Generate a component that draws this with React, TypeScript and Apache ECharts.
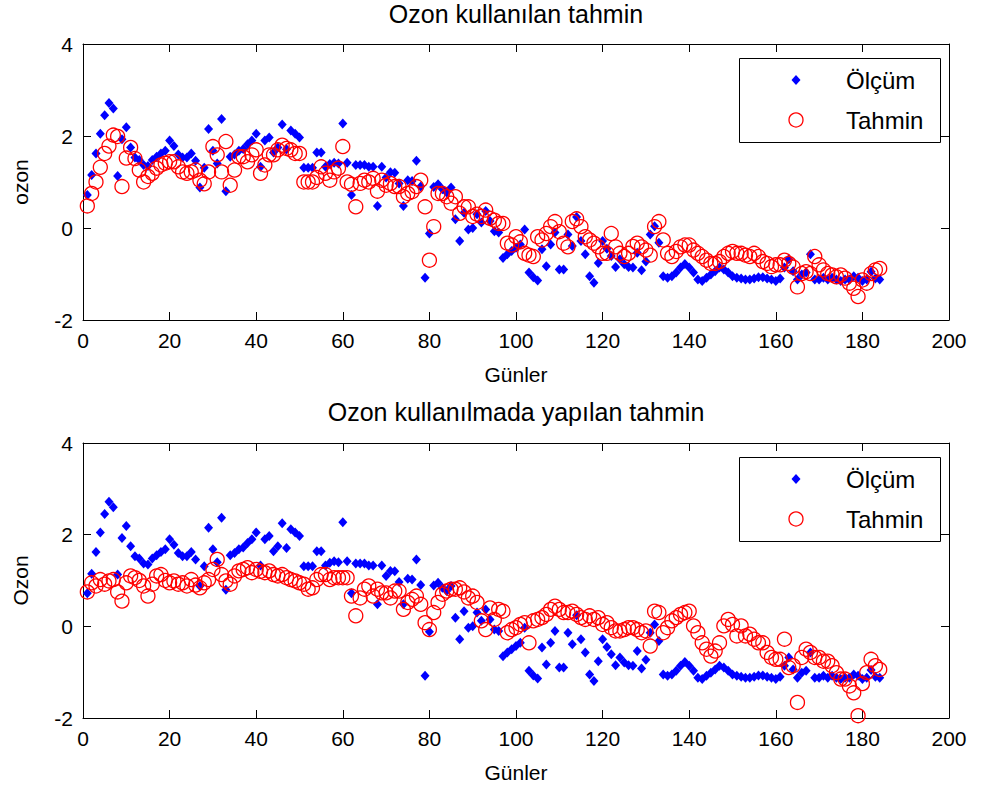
import React, { useEffect, useRef } from "react";
import * as echarts from "echarts";

// Ölçüm (measured), shared by both panels
const olcum = [
  0.72, 1.15, 1.62, 2.05, 2.45, 2.72, 2.6, 1.13, 1.93, 2.19,
  1.75, 1.53, 1.48, 1.37, 1.35, 1.48, 1.55, 1.62, 1.68, 1.9,
  1.78, 1.6, 1.53, 1.53, 1.62, 1.46, 0.88, 1.31, 2.15, 1.68,
  1.4, 2.37, 0.8, 1.55, 1.6, 1.68, 1.72, 1.82, 1.9, 2.05,
  1.33, 1.9, 1.97, 1.64, 1.75, 2.25, 1.71, 2.12, 2.05, 1.97,
  1.31, 1.31, 1.31, 1.64, 1.64, 1.33, 1.39, 1.42, 1.4, 2.27,
  1.42, 0.72, 1.37, 1.37, 1.37, 1.33, 1.33, 0.48, 1.33, 1.1,
  1.21, 1.2, 0.97, 0.48, 1.04, 1.02, 1.46, 0.9, -1.08, -0.12,
  0.89, 0.95, 0.84, 0.77, 0.88, 0.19, -0.28, 0.33, -0.03, 0.0,
  0.3, 0.12, 0.37, 0.15, -0.07, -0.1, -0.65, -0.57, -0.5, -0.43,
  -0.36, -0.03, -0.97, -1.07, -1.14, -0.46, -0.83, -0.36, -0.1, -0.9,
  -0.9, -0.14, -0.39, 0.24, -0.28, -0.57, -1.05, -1.19, -0.76, -0.28,
  -0.45, -0.61, -0.85, -0.68, -0.79, -0.85, -0.86, -0.54, -0.92, -0.73,
  -0.14, 0.04, -0.32, -1.05, -1.08, -1.05, -0.97, -0.86, -0.78, -0.86,
  -0.97, -1.12, -1.15, -1.08, -1.01, -0.94, -0.86, -0.9, -0.97, -1.05,
  -1.08, -1.1, -1.12, -1.12, -1.1, -1.07, -1.07, -1.1, -1.12, -1.15,
  -1.1, -0.86, -0.68, -0.94, -1.12, -1.01, -0.97, -0.57, -1.12, -1.12,
  -1.08, -1.12, -1.08, -1.12, -1.15, -1.12, -1.12, -1.05, -1.08, -1.15,
  -1.12, -0.95, -1.1, -1.12,
];

// Tahmin with ozone used (top panel)
const tahminOzonlu = [
  0.48, 0.75, 1.0, 1.32, 1.62, 1.78, 2.02, 1.99, 0.9, 1.52,
  1.75, 1.51, 1.26, 1.0, 1.12, 1.19, 1.3, 1.37, 1.41, 1.44,
  1.44, 1.33, 1.22, 1.19, 1.22, 1.26, 1.04, 0.96, 1.22, 1.77,
  1.59, 1.22, 1.88, 0.93, 1.26, 1.55, 1.55, 1.44, 1.59, 1.7,
  1.19, 1.37, 1.59, 1.59, 1.7, 1.8, 1.73, 1.7, 1.62, 1.62,
  1.0, 1.0, 1.0, 1.1, 1.33, 1.19, 1.04, 1.22, 1.3, 1.77,
  1.0, 0.95, 0.46, 0.97, 1.04, 1.0, 1.08, 0.8, 1.04, 0.93,
  0.97, 0.9, 0.9, 0.68, 0.75, 0.79, 0.9, 1.04, 0.46, -0.7,
  0.03, 0.75, 0.75, 0.68, 0.54, 0.68, 0.32, 0.46, 0.46, 0.25,
  0.3, 0.25, 0.39, 0.21, 0.17, 0.1, 0.1, -0.33, -0.37, -0.19,
  -0.3, -0.55, -0.59, -0.62, -0.19, -0.26, -0.12, 0.03, 0.14, -0.08,
  -0.33, -0.41, 0.14, 0.2, 0.03, -0.19, -0.26, -0.33, -0.41, -0.55,
  -0.55, -0.12, -0.41, -0.55, -0.62, -0.55, -0.4, -0.33, -0.41, -0.48,
  -0.59, 0.03, 0.14, -0.26, -0.55, -0.62, -0.51, -0.41, -0.37, -0.37,
  -0.48, -0.55, -0.62, -0.7, -0.77, -0.77, -0.73, -0.62, -0.55, -0.51,
  -0.55, -0.55, -0.59, -0.62, -0.55, -0.62, -0.73, -0.77, -0.84, -0.8,
  -0.8, -0.7, -0.77, -0.85, -1.28, -0.99, -0.95, -0.99, -0.62, -0.8,
  -0.91, -0.99, -1.02, -1.06, -1.02, -1.09, -1.2, -1.31, -1.49, -1.13,
  -1.2, -0.99, -0.91, -0.88,
];

// Tahmin without ozone (bottom panel)
const tahminOzonsuz = [
  0.75, 0.95, 0.88, 1.02, 0.92, 0.99, 1.02, 0.75, 0.55, 0.95,
  1.1, 1.06, 1.0, 0.88, 0.66, 0.92, 1.1, 1.13, 1.0, 0.95,
  0.99, 0.92, 0.95, 0.88, 1.02, 0.9, 0.84, 0.95, 1.02, 1.24,
  1.46, 1.13, 0.99, 0.92, 1.1, 1.21, 1.24, 1.28, 1.17, 1.24,
  1.2, 1.17, 1.21, 1.13, 1.1, 1.13, 1.06, 1.02, 0.99, 0.95,
  0.92, 0.81, 0.84, 1.02, 1.13, 1.13, 1.02, 1.06, 1.06, 1.06,
  1.06, 0.66, 0.23, 0.62, 0.81, 0.88, 0.66, 0.81, 0.73, 0.73,
  0.62, 0.77, 0.77, 0.37, 0.52, 0.59, 0.66, 0.48, 0.08, -0.07,
  0.3, 0.52, 0.7, 0.77, 0.81, 0.81, 0.84, 0.75, 0.62, 0.66,
  0.52, 0.12, -0.07, 0.4, 0.15, 0.37, 0.33, -0.14, -0.07, -0.03,
  0.04, 0.08, -0.36, 0.12, 0.15, 0.19, 0.26, 0.37, 0.44, 0.37,
  0.3, 0.3, 0.33, 0.26, 0.19, 0.15, 0.23, 0.15, 0.19, 0.04,
  0.08, -0.03, -0.1, -0.1, -0.07, -0.03, -0.03, -0.07, -0.14, -0.1,
  -0.43, 0.33, 0.3, -0.14, -0.03, 0.12, 0.19, 0.26, 0.3, 0.33,
  0.01, -0.14, -0.36, -0.5, -0.65, -0.54, -0.36, 0.01, 0.15, 0.04,
  -0.21, 0.01, -0.21, -0.17, -0.28, -0.36, -0.36, -0.57, -0.68, -0.72,
  -0.72, -0.28, -0.9, -0.86, -1.66, -0.68, -0.5, -0.57, -0.68, -0.68,
  -0.76, -0.76, -0.86, -1.01, -1.15, -1.15, -1.3, -1.45, -1.95, -1.25,
  -1.01, -0.72, -0.86, -0.94,
];

const xTicks = [0, 200, 20]; // min, max, interval
const yTicks = [-2, 4, 2];
const titles = ["Ozon kullanılan tahmin", "Ozon kullanılmada yapılan tahmin"];
const yNames = ["ozon", "Ozon"];
const xName = "Günler";
const seriesNames = ["Ölçüm", "Tahmin"];

const FONT = "'Liberation Sans', Arial, Helvetica, sans-serif";
const BLUE = "#0000ff";
const RED = "#ff0000";

export default function App() {
  const ref = useRef<HTMLDivElement>(null);

  useEffect(() => {
    if (!ref.current) return;
    const chart = echarts.init(ref.current, undefined, { renderer: "svg" });
    const days = olcum.map((_, i) => i + 1);
    const gridTops = [44, 443];
    const gridHeights = [276, 275];
    const legendTops = [58, 457];
    const predictions = [tahminOzonlu, tahminOzonsuz];

    const axisLine = { onZero: false, lineStyle: { color: "#000", width: 1 } };
    const axisTick = { inside: true, length: 8, lineStyle: { color: "#000" } };
    const labelStyle = { color: "#000", fontSize: 21, fontFamily: FONT };

    const xAxis: any[] = [];
    const yAxis: any[] = [];
    const series: any[] = [];
    const graphic: any[] = [];
    [0, 1].forEach((g) => {
      xAxis.push({
        type: "value", gridIndex: g, position: "bottom",
        min: xTicks[0], max: xTicks[1], interval: xTicks[2],
        axisLine, axisTick, splitLine: { show: false },
        axisLabel: { ...labelStyle, margin: 10 },
        name: xName, nameLocation: "middle", nameGap: 44,
        nameTextStyle: labelStyle,
      });
      xAxis.push({
        type: "value", gridIndex: g, position: "top",
        min: xTicks[0], max: xTicks[1], interval: xTicks[2],
        axisLine, axisTick, splitLine: { show: false },
        axisLabel: { show: false },
      });
      yAxis.push({
        type: "value", gridIndex: g, position: "left",
        min: yTicks[0], max: yTicks[1], interval: yTicks[2],
        axisLine, axisTick, splitLine: { show: false },
        axisLabel: { ...labelStyle, margin: 10 },
        name: yNames[g], nameLocation: "middle", nameGap: 52, nameRotate: 90,
        nameTextStyle: labelStyle,
      });
      yAxis.push({
        type: "value", gridIndex: g, position: "right",
        min: yTicks[0], max: yTicks[1], interval: yTicks[2],
        axisLine, axisTick, splitLine: { show: false },
        axisLabel: { show: false },
      });
      series.push({
        type: "scatter", name: seriesNames[0],
        xAxisIndex: g * 2, yAxisIndex: g * 2,
        data: days.map((d, i) => [d, olcum[i]]),
        symbol: "diamond", symbolSize: [9, 10],
        itemStyle: { color: BLUE, opacity: 1 },
        silent: true,
      });
      series.push({
        type: "scatter", name: seriesNames[1],
        xAxisIndex: g * 2, yAxisIndex: g * 2,
        data: days.map((d, i) => [d, predictions[g][i]]),
        symbol: "circle", symbolSize: 14,
        itemStyle: { color: "rgba(0,0,0,0)", borderColor: RED, borderWidth: 1.3, opacity: 1 },
        silent: true,
      });

      // legend box drawn as graphic elements
      const ly = legendTops[g];
      graphic.push({
        type: "group", silent: true,
        children: [
          { type: "rect", shape: { x: 739.5, y: ly + 0.5, width: 201, height: 84 },
            style: { fill: "#fff", stroke: "#000", lineWidth: 1 } },
          { type: "polygon",
            shape: { points: [[796, ly + 17], [800.5, ly + 22], [796, ly + 27], [791.5, ly + 22]] },
            style: { fill: BLUE } },
          { type: "circle", shape: { cx: 796, cy: ly + 62, r: 7 },
            style: { fill: "none", stroke: RED, lineWidth: 1.3 } },
          { type: "text", x: 846, y: ly + 22,
            style: { text: seriesNames[0], fontSize: 24, fontFamily: FONT, fill: "#000",
              textAlign: "left", textVerticalAlign: "middle" } },
          { type: "text", x: 846, y: ly + 62,
            style: { text: seriesNames[1], fontSize: 24, fontFamily: FONT, fill: "#000",
              textAlign: "left", textVerticalAlign: "middle" } },
        ],
      });
    });

    chart.setOption({
      animation: false,
      backgroundColor: "#fff",
      title: titles.map((t, g) => ({
        text: t, left: 516, top: [1, 399][g], textAlign: "center", padding: 0,
        textStyle: { fontSize: 25, fontWeight: "normal", color: "#000", fontFamily: FONT },
      })),
      grid: [0, 1].map((g) => ({
        left: 83, top: gridTops[g], width: 866, height: gridHeights[g], containLabel: false,
      })),
      xAxis,
      yAxis,
      series,
      graphic,
    });
    return () => chart.dispose();
  }, []);

  return (
    <div
      ref={ref}
      style={{ position: "fixed", left: 0, top: 0, width: 983, height: 796, background: "#fff" }}
    />
  );
}
